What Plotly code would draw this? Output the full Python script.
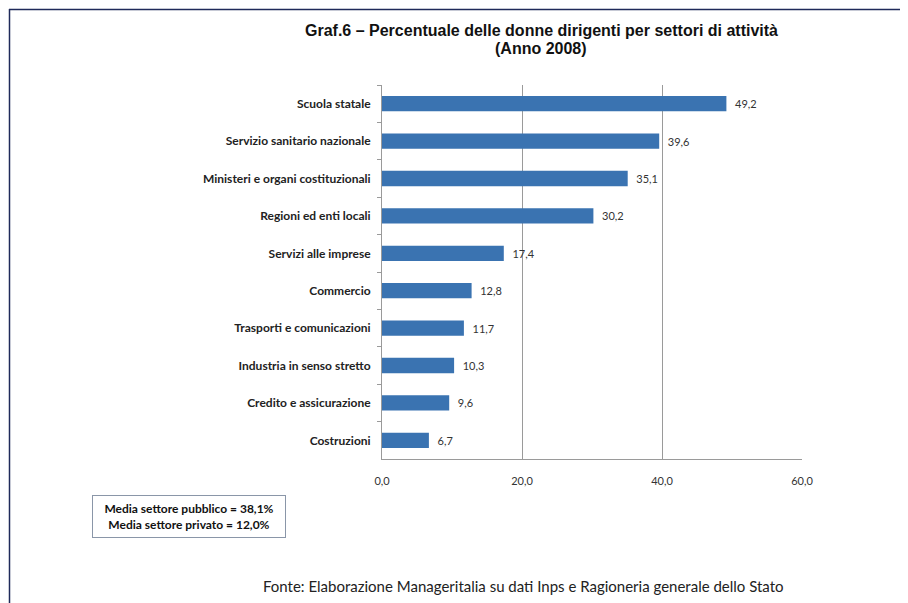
import plotly.graph_objects as go

categories = [
    "Scuola statale",
    "Servizio sanitario nazionale",
    "Ministeri e organi costituzionali",
    "Regioni ed enti locali",
    "Servizi alle imprese",
    "Commercio",
    "Trasporti e comunicazioni",
    "Industria in senso stretto",
    "Credito e assicurazione",
    "Costruzioni",
]
values = [49.2, 39.6, 35.1, 30.2, 17.4, 12.8, 11.7, 10.3, 9.6, 6.7]
x_ticks = [0, 20, 40, 60]

title_line1 = "Graf.6 – Percentuale delle donne dirigenti per settori di attività"
title_line2 = "(Anno 2008)"
box_text = "<b>Media settore pubblico = 38,1%<br>Media settore privato = 12,0%</b>"
source_text = "Fonte: Elaborazione Manageritalia su dati Inps e Ragioneria generale dello Stato"

W, H = 908, 603
OFF = 8  # page body margin offset
L, T = 382 - OFF, 85 - OFF
PW, PH = 420, 374
R, B = W - L - PW, H - T - PH


def px(x):
    return (x - OFF - L) / PW


def py(y):
    return (T + PH - (y - OFF)) / PH


labels = ["  " + f"{v:.1f}".replace(".", ",") for v in values]

fig = go.Figure(
    go.Bar(
        x=values,
        y=categories,
        orientation="h",
        marker=dict(color="#3a73b1", line=dict(width=0)),
        width=0.41,
        text=labels,
        textposition="outside",
        cliponaxis=False,
        textfont=dict(family="Lato", size=11, color="#333333"),
    )
)

fig.update_layout(
    width=W,
    height=H,
    margin=dict(l=L, r=R, t=T, b=B),
    paper_bgcolor="white",
    plot_bgcolor="white",
    separators=",.",
    showlegend=False,
    xaxis=dict(
        range=[0, 60],
        tickvals=x_ticks,
        tickformat=".1f",
        showgrid=True,
        gridcolor="#9a9a9a",
        gridwidth=1,
        showline=True,
        linecolor="#9a9a9a",
        linewidth=1,
        zeroline=False,
        ticks="",
        ticklabelstandoff=12,
        tickfont=dict(family="Lato", size=11, color="#333333"),
        fixedrange=True,
    ),
    yaxis=dict(
        categoryorder="array",
        categoryarray=categories,
        autorange="reversed",
        showline=True,
        linecolor="#9a9a9a",
        linewidth=1,
        ticks="outside",
        tickson="boundaries",
        ticklen=4,
        tickcolor="#9a9a9a",
        ticklabelstandoff=8,
        tickfont=dict(family="Lato", size=12, color="#222222", weight="bold"),
        showgrid=False,
        fixedrange=True,
    ),
    annotations=[
        dict(
            text=title_line1,
            xref="paper", yref="paper",
            x=px(541), y=py(30),
            xanchor="center", yanchor="middle",
            showarrow=False,
            font=dict(family="Liberation Sans", size=16, color="#111111", weight="bold"),
        ),
        dict(
            text=title_line2,
            xref="paper", yref="paper",
            x=px(541), y=py(48),
            xanchor="center", yanchor="middle",
            showarrow=False,
            font=dict(family="Liberation Sans", size=16, color="#111111", weight="bold"),
        ),
        dict(
            text=box_text,
            xref="paper", yref="paper",
            x=px(189), y=py(516),
            xanchor="center", yanchor="middle",
            showarrow=False,
            bordercolor="#8a96a8",
            borderwidth=1,
            borderpad=5,
            width=182,
            font=dict(family="Lato", size=12, color="#111111"),
        ),
        dict(
            text=source_text,
            xref="paper", yref="paper",
            x=px(523), y=py(586),
            xanchor="center", yanchor="middle",
            showarrow=False,
            font=dict(family="Lato", size=15, color="#222222"),
        ),
    ],
    shapes=[
        dict(type="line", xref="paper", yref="paper",
             x0=px(9), x1=px(W + 20), y0=py(9.5), y1=py(9.5),
             line=dict(color="#1f2a5a", width=1.5)),
        dict(type="line", xref="paper", yref="paper",
             x0=px(9.5), x1=px(9.5), y0=py(9), y1=py(H + 20),
             line=dict(color="#1f2a5a", width=1.5)),
    ],
)

fig.write_html("out.html")
